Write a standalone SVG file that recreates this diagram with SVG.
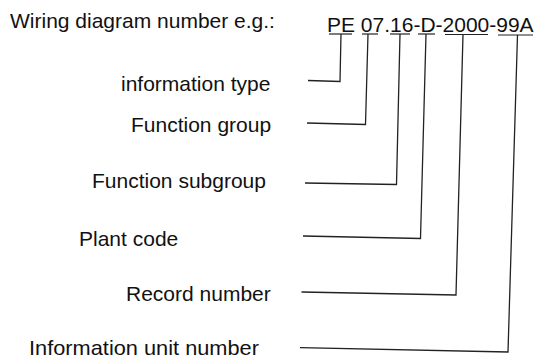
<svg xmlns="http://www.w3.org/2000/svg" width="536" height="361" viewBox="0 0 536 361">
<style>
  text { font-family: "Liberation Sans", Arial, sans-serif; font-size: 21px; fill: #111; }
  .ul { stroke: #222; stroke-width: 1.2; fill: none; }
  .con { stroke: #222; stroke-width: 1.3; fill: none; stroke-linejoin: miter; }
</style>
<rect width="536" height="361" fill="#fff"/>
<g id="title"><text x="10" y="28">Wiring diagram number e.g.:</text></g>
<g id="code">
  <text x="327" y="31.5">PE 07.16-D-2000-99A</text>
  <line class="ul" x1="329" y1="34" x2="352" y2="34"/>
  <line class="ul" x1="362" y1="34" x2="378" y2="34"/>
  <line class="ul" x1="390" y1="34" x2="410" y2="34"/>
  <line class="ul" x1="418" y1="34" x2="435" y2="34"/>
  <line class="ul" x1="445" y1="34.5" x2="488" y2="34.5"/>
  <line class="ul" x1="498" y1="35" x2="533" y2="35"/>
</g>
<g id="label-information-type"><text x="121" y="91">information type</text></g>
<g id="label-function-group"><text x="131" y="132">Function group</text></g>
<g id="label-function-subgroup"><text x="92" y="188">Function subgroup</text></g>
<g id="label-plant-code"><text x="79" y="246">Plant code</text></g>
<g id="label-record-number"><text x="126" y="301">Record number</text></g>
<g id="label-information-unit-number"><text x="29" y="355" textLength="230" lengthAdjust="spacingAndGlyphs">Information unit number</text></g>
<g id="connectors">
  <polyline class="con" points="341,34 340,81.5 308,80.5"/>
  <polyline class="con" points="368,34 365.5,124.5 307,123"/>
  <polyline class="con" points="400,34 396.5,184.5 305,183"/>
  <polyline class="con" points="426,34 420.5,238.5 303,236"/>
  <polyline class="con" points="463,34.5 456,295 301.5,292"/>
  <polyline class="con" points="517.5,35 508,352 300,347.7"/>
</g>
</svg>
